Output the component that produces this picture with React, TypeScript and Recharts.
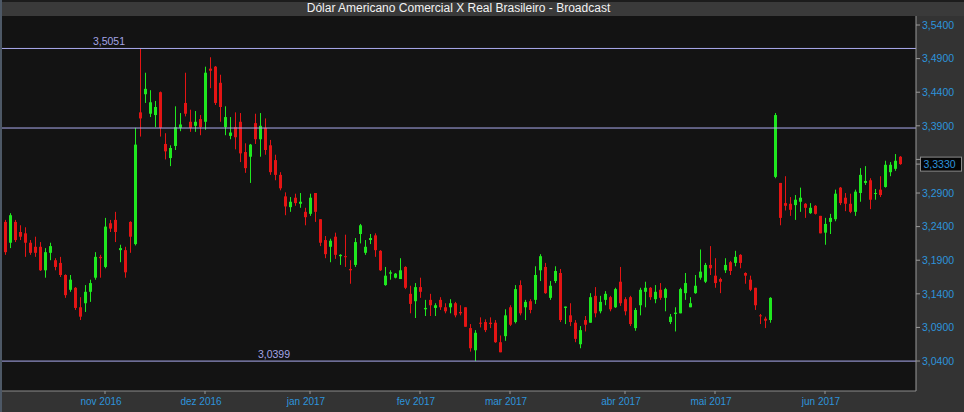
import { ComposedChart, Bar, XAxis, YAxis, CartesianGrid, ReferenceLine } from "recharts";

// daily candles, oct 2016 -> jun 2017 (USD/BRL commercial)
const opens = [
  3.247, 3.216, 3.247, 3.232, 3.230, 3.216, 3.210, 3.210, 3.175, 3.201,
  3.190, 3.186, 3.168, 3.146, 3.149, 3.120, 3.126, 3.143, 3.164, 3.195,
  3.180, 3.245, 3.250, 3.205, 3.205, 3.247, 3.214, 3.410, 3.437, 3.408,
  3.406, 3.440, 3.363, 3.342, 3.360, 3.387, 3.424, 3.396, 3.390, 3.400,
  3.396, 3.475, 3.478, 3.454, 3.388, 3.375, 3.388, 3.396, 3.351, 3.344,
  3.394, 3.370, 3.387, 3.361, 3.339, 3.317, 3.285, 3.269, 3.283, 3.274,
  3.262, 3.259, 3.290, 3.251, 3.220, 3.210, 3.225, 3.196, 3.196, 3.177,
  3.183, 3.229, 3.201, 3.220, 3.227, 3.204, 3.153, 3.170, 3.164, 3.162,
  3.180, 3.140, 3.129, 3.150, 3.117, 3.131, 3.119, 3.131, 3.120, 3.120,
  3.126, 3.113, 3.120, 3.089, 3.056, 3.097, 3.098, 3.097, 3.097, 3.068,
  3.077, 3.120, 3.098, 3.153, 3.120, 3.129, 3.131, 3.175, 3.180, 3.134,
  3.159, 3.171, 3.119, 3.108, 3.097, 3.065, 3.101, 3.097, 3.137, 3.114,
  3.131, 3.135, 3.120, 3.158, 3.132, 3.135, 3.089, 3.123, 3.143, 3.149,
  3.132, 3.146, 3.134, 3.098, 3.110, 3.111, 3.141, 3.120, 3.141, 3.164,
  3.158, 3.183, 3.167, 3.162, 3.175, 3.187, 3.186, 3.198, 3.171, 3.161,
  3.149, 3.108, 3.103, 3.101, 3.314, 3.305, 3.275, 3.274, 3.272, 3.277,
  3.274, 3.260, 3.271, 3.256, 3.231, 3.247, 3.251, 3.298, 3.283, 3.274,
  3.262, 3.290, 3.305, 3.309, 3.289, 3.295, 3.299, 3.321, 3.326, 3.344,
];
const highs = [
  3.250, 3.260, 3.250, 3.242, 3.239, 3.220, 3.225, 3.217, 3.208, 3.216,
  3.193, 3.195, 3.169, 3.168, 3.150, 3.135, 3.153, 3.161, 3.202, 3.198,
  3.253, 3.250, 3.262, 3.213, 3.210, 3.248, 3.387, 3.5051, 3.469, 3.443,
  3.427, 3.441, 3.379, 3.361, 3.419, 3.409, 3.469, 3.414, 3.412, 3.406,
  3.478, 3.492, 3.479, 3.466, 3.419, 3.403, 3.410, 3.409, 3.364, 3.363,
  3.408, 3.409, 3.401, 3.369, 3.347, 3.321, 3.291, 3.284, 3.289, 3.290,
  3.268, 3.289, 3.290, 3.251, 3.226, 3.222, 3.231, 3.199, 3.228, 3.190,
  3.223, 3.244, 3.220, 3.229, 3.230, 3.205, 3.180, 3.175, 3.171, 3.193,
  3.181, 3.152, 3.156, 3.164, 3.131, 3.140, 3.126, 3.135, 3.126, 3.132,
  3.128, 3.123, 3.120, 3.095, 3.086, 3.105, 3.102, 3.105, 3.101, 3.078,
  3.117, 3.123, 3.153, 3.160, 3.131, 3.132, 3.181, 3.199, 3.186, 3.159,
  3.181, 3.177, 3.121, 3.126, 3.101, 3.092, 3.107, 3.141, 3.150, 3.137,
  3.144, 3.137, 3.149, 3.180, 3.135, 3.137, 3.119, 3.149, 3.158, 3.150,
  3.153, 3.156, 3.149, 3.110, 3.120, 3.149, 3.171, 3.135, 3.168, 3.206,
  3.186, 3.211, 3.193, 3.164, 3.193, 3.189, 3.204, 3.199, 3.172, 3.167,
  3.149, 3.110, 3.106, 3.135, 3.409, 3.305, 3.315, 3.284, 3.287, 3.298,
  3.275, 3.275, 3.272, 3.256, 3.253, 3.259, 3.295, 3.299, 3.290, 3.289,
  3.295, 3.327, 3.330, 3.312, 3.296, 3.315, 3.338, 3.336, 3.348, 3.345,
];
const lows = [
  3.198, 3.208, 3.217, 3.220, 3.195, 3.198, 3.195, 3.174, 3.164, 3.190,
  3.175, 3.165, 3.134, 3.143, 3.116, 3.101, 3.113, 3.128, 3.161, 3.164,
  3.178, 3.232, 3.217, 3.187, 3.164, 3.201, 3.212, 3.374, 3.424, 3.403,
  3.388, 3.374, 3.340, 3.330, 3.354, 3.382, 3.404, 3.381, 3.381, 3.376,
  3.384, 3.446, 3.421, 3.396, 3.376, 3.370, 3.355, 3.336, 3.320, 3.305,
  3.363, 3.344, 3.347, 3.317, 3.309, 3.294, 3.257, 3.262, 3.271, 3.268,
  3.242, 3.256, 3.247, 3.211, 3.193, 3.187, 3.192, 3.183, 3.180, 3.155,
  3.180, 3.215, 3.198, 3.214, 3.195, 3.174, 3.152, 3.161, 3.163, 3.162,
  3.147, 3.111, 3.104, 3.134, 3.107, 3.107, 3.107, 3.116, 3.111, 3.111,
  3.105, 3.108, 3.091, 3.054, 3.0399, 3.090, 3.083, 3.089, 3.067, 3.053,
  3.070, 3.092, 3.096, 3.108, 3.101, 3.111, 3.125, 3.159, 3.140, 3.131,
  3.156, 3.098, 3.095, 3.092, 3.068, 3.059, 3.084, 3.097, 3.105, 3.111,
  3.123, 3.114, 3.119, 3.122, 3.108, 3.092, 3.085, 3.108, 3.120, 3.131,
  3.126, 3.131, 3.114, 3.095, 3.084, 3.111, 3.131, 3.120, 3.140, 3.161,
  3.156, 3.168, 3.149, 3.141, 3.171, 3.168, 3.181, 3.178, 3.155, 3.144,
  3.116, 3.095, 3.089, 3.097, 3.312, 3.242, 3.264, 3.256, 3.250, 3.262,
  3.253, 3.259, 3.258, 3.230, 3.213, 3.229, 3.248, 3.272, 3.263, 3.260,
  3.256, 3.277, 3.302, 3.266, 3.280, 3.284, 3.298, 3.315, 3.323, 3.332,
];
const closes = [
  3.202, 3.257, 3.220, 3.225, 3.216, 3.201, 3.201, 3.175, 3.202, 3.211,
  3.180, 3.168, 3.138, 3.161, 3.119, 3.106, 3.143, 3.156, 3.195, 3.193,
  3.240, 3.237, 3.232, 3.208, 3.172, 3.225, 3.362, 3.401, 3.445, 3.425,
  3.418, 3.387, 3.352, 3.357, 3.388, 3.392, 3.408, 3.387, 3.396, 3.388,
  3.469, 3.472, 3.424, 3.418, 3.403, 3.380, 3.373, 3.349, 3.327, 3.362,
  3.370, 3.390, 3.354, 3.321, 3.317, 3.297, 3.270, 3.277, 3.275, 3.277,
  3.254, 3.283, 3.262, 3.216, 3.199, 3.219, 3.198, 3.198, 3.195, 3.175,
  3.217, 3.242, 3.210, 3.223, 3.205, 3.175, 3.167, 3.172, 3.170, 3.175,
  3.149, 3.125, 3.150, 3.143, 3.119, 3.123, 3.123, 3.120, 3.114, 3.126,
  3.108, 3.111, 3.091, 3.059, 3.082, 3.096, 3.086, 3.095, 3.068, 3.053,
  3.108, 3.094, 3.147, 3.111, 3.128, 3.116, 3.168, 3.196, 3.141, 3.152,
  3.174, 3.101, 3.121, 3.098, 3.073, 3.086, 3.094, 3.135, 3.111, 3.128,
  3.140, 3.117, 3.147, 3.126, 3.114, 3.095, 3.116, 3.146, 3.149, 3.135,
  3.143, 3.134, 3.147, 3.106, 3.112, 3.147, 3.156, 3.126, 3.152, 3.173,
  3.183, 3.178, 3.156, 3.158, 3.183, 3.174, 3.195, 3.186, 3.167, 3.146,
  3.123, 3.107, 3.100, 3.134, 3.406, 3.253, 3.271, 3.265, 3.280, 3.283,
  3.268, 3.268, 3.259, 3.230, 3.244, 3.253, 3.289, 3.275, 3.274, 3.262,
  3.292, 3.317, 3.308, 3.280, 3.290, 3.287, 3.332, 3.332, 3.338, 3.333,
];

const monthIdx = [20, 40, 61, 83, 101, 124, 142, 164];
const monthLabels = ["nov 2016", "dez 2016", "jan 2017", "fev 2017", "mar 2017", "abr 2017", "mai 2017", "jun 2017"];

const yTicks = [3.04, 3.09, 3.14, 3.19, 3.24, 3.29, 3.34, 3.39, 3.44, 3.49, 3.54];
const lastClose = 3.333;

const refValues = [3.5051, 3.3867, 3.0399];
const refLabels = ["3,5051", "", "3,0399"];
const refLabelPos = [0.0995, 0, 0.28];

const GREEN = "#1fe81f";
const RED = "#e41414";
const BLUE = "#2d93dc";
const FONT = "'Liberation Sans', Arial, sans-serif";

const data = opens.map((o, i) => ({
  i,
  o,
  h: highs[i],
  l: lows[i],
  c: closes[i],
  range: [lows[i], highs[i]],
}));

const fmt = (v: number) => v.toFixed(4).replace(".", ",");

function Candle(props: any) {
  const { x, y, width, height, payload } = props;
  if (!payload || x == null) return null;
  const { o, h, l, c } = payload;
  const top = Math.min(y, y + height);
  const bottom = Math.max(y, y + height);
  const k = (bottom - top) / (h - l || 1);
  const py = (v: number) => top + (h - v) * k;
  const cx = Math.round(x + width / 2);
  const color = c >= o ? GREEN : RED;
  const bt = py(Math.max(o, c));
  const bb = py(Math.min(o, c));
  return (
    <g>
      <line x1={cx + 0.5} x2={cx + 0.5} y1={top} y2={bottom} stroke={color} strokeWidth={1} />
      <rect x={cx - 1} y={bt} width={3} height={Math.max(1, bb - bt)} fill={color} />
    </g>
  );
}

function XTick(props: any) {
  const { x, y, payload } = props;
  const k = monthIdx.indexOf(payload.value);
  return (
    <text x={x - 4} y={y + 9} textAnchor="middle" fill={BLUE} fontSize={10} fontFamily={FONT}>
      {k >= 0 ? monthLabels[k] : ""}
    </text>
  );
}

function YTick(props: any) {
  const { x, y, payload } = props;
  const v = payload.value;
  if (Math.abs(v - lastClose) < 1e-9) {
    return (
      <g>
        <rect x={x - 1.5} y={y - 7} width={41} height={14} fill="#050505" stroke="#8a8a8a" />
        <text x={x + 1.5} y={y} dy={3.7} fill={BLUE} fontSize={10.5} fontFamily={FONT}>
          {fmt(v)}
        </text>
      </g>
    );
  }
  // the 3,3400 label sits under the last-price box
  if (Math.abs(v - lastClose) < 0.012) return null;
  return (
    <text x={x} y={y} dy={3.7} fill={BLUE} fontSize={10.5} fontFamily={FONT}>
      {fmt(v)}
    </text>
  );
}

function RefLabel(props: any) {
  const { viewBox, text, frac } = props;
  if (!viewBox || !text) return null;
  return (
    <text x={viewBox.x + frac * viewBox.width} y={viewBox.y - 3} fill="#a4a4e6" fontSize={10.5} fontFamily={FONT}>
      {text}
    </text>
  );
}

export default function App() {
  return (
    <div style={{ position: "absolute", left: 0, top: 0, width: 964, height: 412, background: "#333333", overflow: "hidden" }}>
      <div style={{ position: "absolute", left: 0, top: 0, width: 964, height: 2, background: "#1c1c1c" }} />
      <div style={{ position: "absolute", left: 0, top: 2, width: 964, height: 14, background: "#3a3a3a" }} />
      <div style={{ position: "absolute", left: 0, top: 0, width: 2, height: 412, background: "#4d5866" }} />
      <div
        style={{
          position: "absolute",
          left: 0,
          top: 1,
          width: 917,
          height: 15,
          lineHeight: "15px",
          textAlign: "center",
          color: "#f2f2f2",
          fontFamily: FONT,
          fontSize: 12,
        }}
      >
        Dólar Americano Comercial X Real Brasileiro - Broadcast
      </div>
      <div style={{ position: "absolute", left: 0, top: 0 }}>
        <ComposedChart width={964} height={412} data={data} margin={{ top: 16, right: 0, bottom: 0, left: 2 }}>
          <CartesianGrid horizontal={false} vertical={false} fill="#131313" />
          <XAxis
            dataKey="i"
            type="number"
            domain={[-0.6, 182.2]}
            allowDataOverflow
            ticks={monthIdx}
            interval={0}
            height={21}
            tick={<XTick />}
            tickSize={3}
            axisLine={{ stroke: "#8c8c8c" }}
            tickLine={{ stroke: "#9a9a9a" }}
          />
          <YAxis
            orientation="right"
            type="number"
            domain={[2.9954, 3.5534]}
            allowDataOverflow
            ticks={[...yTicks, lastClose]}
            interval={0}
            width={48}
            tick={<YTick />}
            tickSize={4}
            axisLine={{ stroke: "#9a9a9a" }}
            tickLine={{ stroke: "#9a9a9a" }}
          />
          {refValues.map((v, k) => (
            <ReferenceLine
              key={k}
              y={v}
              stroke="#acacf0"
              strokeWidth={1}
              label={<RefLabel text={refLabels[k]} frac={refLabelPos[k]} />}
            />
          ))}
          <Bar dataKey="range" barSize={5} shape={<Candle />} isAnimationActive={false} />
        </ComposedChart>
      </div>
    </div>
  );
}
